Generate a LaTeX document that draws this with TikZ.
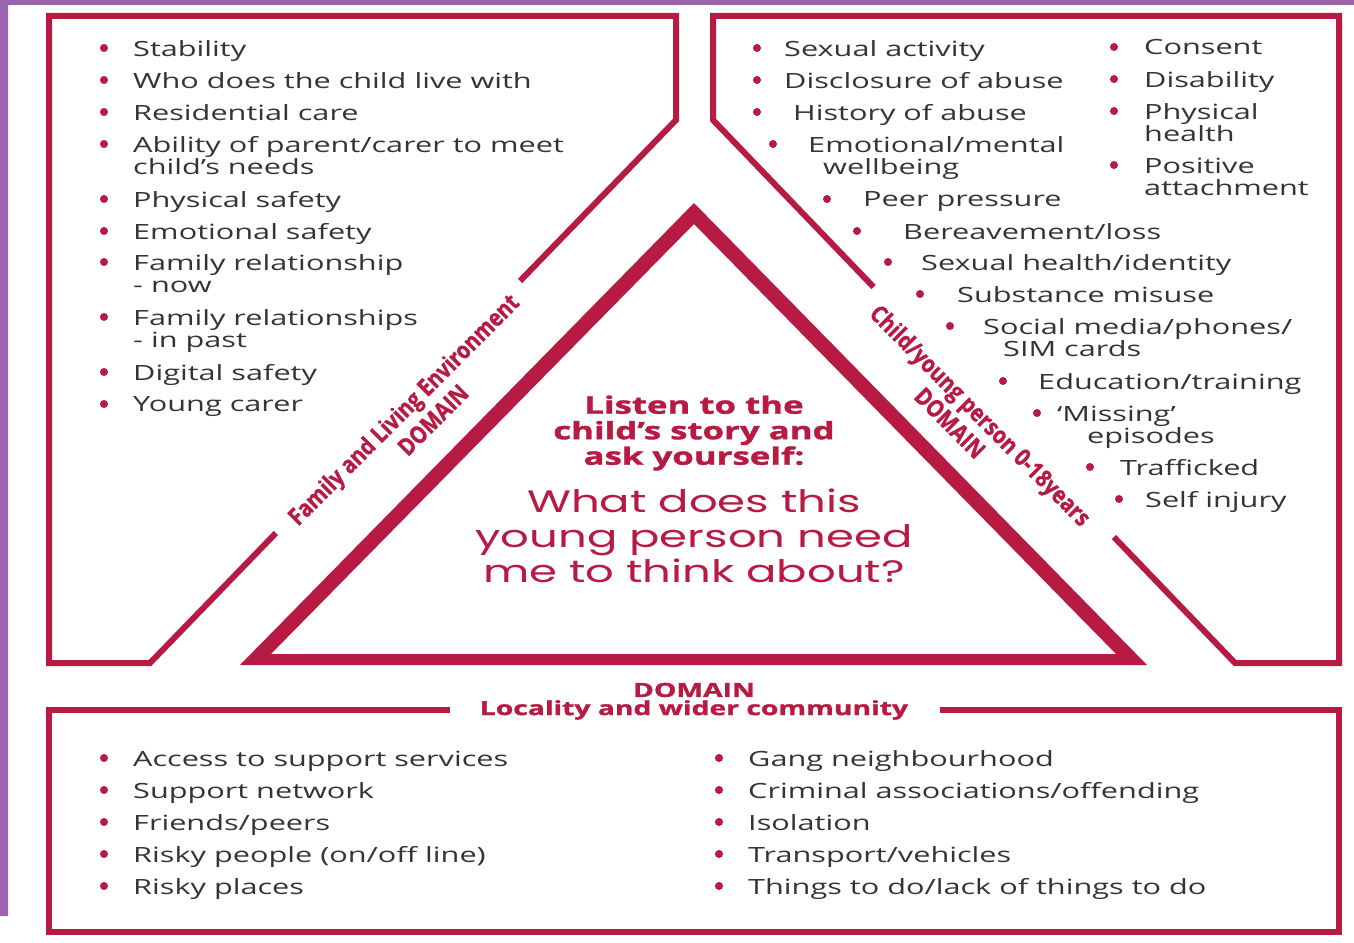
\documentclass[tikz,border=0pt]{standalone}
\usepackage{fontspec}
\setmainfont{Open Sans}[FakeStretch=1.46]
\newfontfamily\tagfont{Open Sans}[FakeStretch=0.85,BoldFeatures={FakeBold=1.2}]
\newfontfamily\headfont{Open Sans}[FakeStretch=1.45,BoldFeatures={FakeBold=1.5}]
\newfontfamily\askfont{Poppins}[FakeStretch=1.45]
\usetikzlibrary{calc}
\definecolor{crimson}{RGB}{183,26,66}
\definecolor{ink}{RGB}{52,52,52}
\definecolor{lilac}{RGB}{156,100,172}

\begin{document}
\begin{tikzpicture}[x=1pt,y=-1pt,line join=miter,
    frame/.style={draw=crimson,line width=6pt},
    dot/.style={fill=crimson},
    item/.style={anchor=north west,inner sep=0pt,align=left,text=ink,font=\fontsize{21}{22}\selectfont},
    tag/.style={inner sep=0pt,text=crimson,font=\tagfont\bfseries\fontsize{24}{26}\selectfont},
    head/.style={inner sep=0pt,align=center,text=crimson}]
  \fill[white] (0,0) rectangle (1354,942);
  \useasboundingbox (0,0) rectangle (1354,942);
  \fill[lilac] (0,0) rectangle (1354,5) (0,0) rectangle (8,916);
  % panels, cut open where the domain names sit
  \coordinate (lt) at (676,120); \coordinate (lb) at (150,663);
  \coordinate (rt) at (713,120); \coordinate (rb) at (1235,663);
  \draw[frame] ($(lt)!0.2965!(lb)$) -- (lt) -- (676,16) -- (49,16) -- (49,663) -- (lb) -- ($(lb)!0.2394!(lt)$);
  \draw[frame] ($(rt)!0.3076!(rb)$) -- (rt) -- (713,16) -- (1339,16) -- (1339,663) -- (rb) -- ($(rb)!0.232!(rt)$);
  \draw[frame] (450,710) -- (49,710) -- (49,932) -- (1339,932) -- (1339,710) -- (940,710);
  % centre triangle
  \fill[crimson,even odd rule] (694,203) -- (1147,665) -- (240,665) -- cycle
    (694,224) -- (1116,654) -- (271,654) -- cycle;
  \node[head,font=\headfont\bfseries\fontsize{24}{25.5}\selectfont] (listen) at (694,433) {Listen to the\\child’s story and\\ask yourself:};
  \node[head,font=\askfont\fontsize{31}{35}\selectfont] (ask) at (694,536) {What does this\\young person need\\me to think about?};
  % domain names
  \node[tag,rotate=45] (famtag) at (405,411) {Family and Living Environment};
  \node[tag,rotate=45] (famdom) at (433,420) {DOMAIN};
  \node[tag,rotate=-45] (kidtag) at (979,417) {Child/young person 0-18years};
  \node[tag,rotate=-45] (kiddom) at (950,423) {DOMAIN};
  \node[head,font=\headfont\bfseries\fontsize{19.5}{20}\selectfont] (locdom) at (694,690) {DOMAIN};
  \node[head,font=\headfont\bfseries\fontsize{19.5}{20}\selectfont] (loctag) at (694,710) {Locality and wider community};
  % family and living environment
  \foreach \y/\txt [count=\i] in {48/{Stability}, 80/{Who does the child live with},
      112/{Residential care}, 144/{Ability of parent/carer to meet\\child’s needs},
      199/{Physical safety}, 231/{Emotional safety}, 262/{Family relationship\\- now},
      317/{Family relationships\\- in past}, 372/{Digital safety}, 404/{Young carer}}{
    \fill[dot] (104,\y) circle (4pt);
    \node[item] (fam\i) at (133,\y-7.6) {\txt};
  }
  % child / young person, stepped along the slope
  \foreach \bx/\tx/\y/\txt [count=\i] in {757/784/48/{Sexual activity},
      757/784/80/{Disclosure of abuse}, 757/793/112/{History of abuse},
      773/808/144/{Emotional/mental\\\hspace*{15pt}wellbeing}, 827/863/199/{Peer pressure},
      857/903/231/{Bereavement/loss}, 888/921/262/{Sexual health/identity},
      920/957/294/{Substance misuse}, 950/983/326/{Social media/phones/\\\hspace*{20pt}SIM cards},
      1003/1038/381/{Education/training}, 1037/1057/413/{‘Missing’\\\hspace*{30pt}episodes},
      1090/1120/467/{Trafficked}, 1119/1145/499/{Self injury}}{
    \fill[dot] (\bx,\y) circle (4pt);
    \node[item] (kid\i) at (\tx,\y-7.6) {\txt};
  }
  \foreach \y/\txt [count=\i] in {47/{Consent}, 79/{Disability},
      111/{Physical\\health}, 165/{Positive\\attachment}}{
    \fill[dot] (1114,\y) circle (4pt);
    \node[item] (kidb\i) at (1144,\y-7.6) {\txt};
  }
  % locality and wider community
  \foreach \y/\txt [count=\i] in {758/{Access to support services}, 790/{Support network},
      822/{Friends/peers}, 854/{Risky people (on/off line)}, 886/{Risky places}}{
    \fill[dot] (104,\y) circle (4pt);
    \node[item] (loc\i) at (133,\y-7.6) {\txt};
  }
  \foreach \y/\txt [count=\i] in {758/{Gang neighbourhood}, 790/{Criminal associations/offending},
      822/{Isolation}, 854/{Transport/vehicles}, 886/{Things to do/lack of things to do}}{
    \fill[dot] (719,\y) circle (4pt);
    \node[item] (locb\i) at (748,\y-7.6) {\txt};
  }
\end{tikzpicture}
\end{document}
